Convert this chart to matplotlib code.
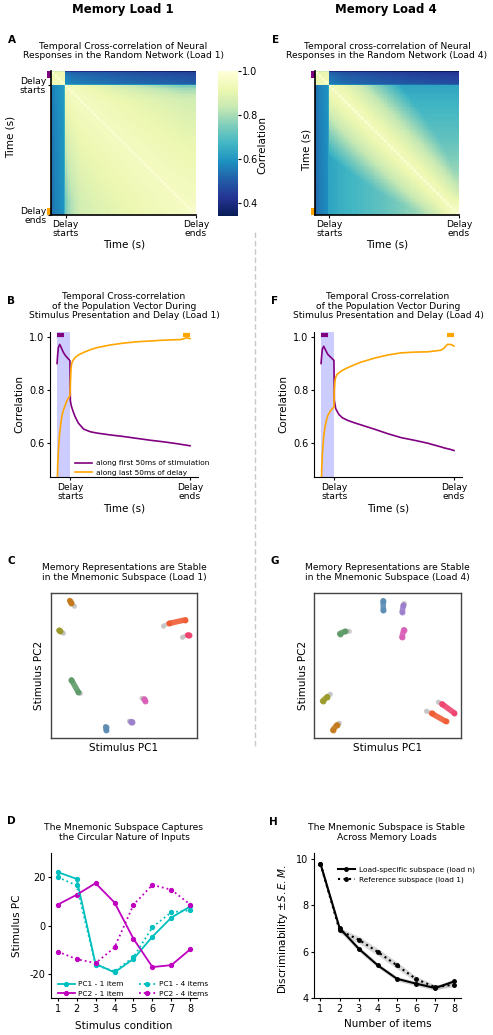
import numpy as np
import matplotlib
matplotlib.use("Agg")
import matplotlib.pyplot as plt
from matplotlib.lines import Line2D
from matplotlib.patches import Rectangle

plt.rcParams['font.family'] = ['DejaVu Sans']
plt.rcParams['axes.unicode_minus'] = False

# ---------------- data ----------------
STIM_END = 0.1
NBIN = 100

# Heatmap, load 1 (read values)
hm1_stim_level = 0.93
hm1_top_t = [0.1, 0.15, 0.5, 1.0]
hm1_top_v = [0.56, 0.53, 0.50, 0.47]
hm1_left_t = [0.1, 0.3, 1.0]
hm1_left_v = [0.58, 0.57, 0.56]
hm1_off_s = [0.0, 0.012, 0.03, 0.085, 0.1]
hm1_off_v = [-0.18, -0.02, 0.0, 0.03, 0.12]
hm1_far_s = [0.1, 0.13, 0.2, 0.3, 0.5, 0.7, 0.9, 1.0]
hm1_far_v = [0.74, 0.80, 0.86, 0.88, 0.91, 0.93, 0.95, 1.0]
hm1_wid_s = [0.1, 0.3, 0.5, 0.7, 0.9, 1.0]
hm1_wid_v = [0.8, 0.65, 0.45, 0.3, 0.1, 0.01]

# Heatmap, load 4 (read values)
hm4_stim_level = 0.92
hm4_top_t = [0.1, 0.2, 0.5, 1.0]
hm4_top_v = [0.53, 0.50, 0.47, 0.44]
hm4_left_t = [0.1, 1.0]
hm4_left_v = [0.56, 0.55]
hm4_off_s = [0.0, 0.012, 0.03, 0.085, 0.1]
hm4_off_v = [-0.18, -0.02, 0.0, 0.03, 0.10]
hm4_far_s = [0.1, 0.2, 0.3, 0.5, 0.7, 0.85, 1.0]
hm4_far_v = [0.63, 0.66, 0.68, 0.72, 0.78, 0.86, 1.0]
hm4_wid_s = [0.1, 0.3, 0.5, 0.7, 0.9, 1.0]
hm4_wid_v = [0.5, 0.45, 0.38, 0.27, 0.1, 0.01]

# Population-vector cross-correlation curves
tc_time = [0, 0.005, 0.01, 0.02, 0.03, 0.04, 0.05, 0.06, 0.07, 0.08, 0.09, 0.097,
           0.1, 0.105, 0.11, 0.12, 0.135, 0.16, 0.2, 0.25, 0.3, 0.4, 0.5, 0.6,
           0.7, 0.8, 0.9, 0.925, 0.95, 0.975, 1.0]
b_first = [0.90, 0.935, 0.96, 0.972, 0.962, 0.95, 0.94, 0.932, 0.926, 0.92, 0.915, 0.91,
           0.76, 0.745, 0.735, 0.72, 0.70, 0.675, 0.652, 0.642, 0.637, 0.63, 0.624, 0.617,
           0.61, 0.604, 0.597, 0.595, 0.593, 0.591, 0.589]
b_last = [0.40, 0.52, 0.57, 0.64, 0.68, 0.71, 0.727, 0.74, 0.755, 0.765, 0.772, 0.778,
          0.82, 0.88, 0.90, 0.912, 0.922, 0.932, 0.942, 0.952, 0.96, 0.97, 0.977, 0.982,
          0.985, 0.988, 0.99, 0.99, 0.993, 0.997, 0.994]
f_first = [0.90, 0.93, 0.955, 0.965, 0.955, 0.945, 0.935, 0.93, 0.925, 0.92, 0.915, 0.912,
           0.76, 0.745, 0.73, 0.72, 0.707, 0.695, 0.685, 0.676, 0.668, 0.652, 0.635, 0.62,
           0.61, 0.599, 0.585, 0.581, 0.578, 0.575, 0.571]
f_last = [0.40, 0.50, 0.56, 0.625, 0.66, 0.685, 0.702, 0.712, 0.72, 0.727, 0.732, 0.735,
          0.80, 0.835, 0.848, 0.858, 0.865, 0.874, 0.884, 0.895, 0.905, 0.92, 0.932, 0.94,
          0.943, 0.944, 0.95, 0.958, 0.972, 0.972, 0.966]

# Mnemonic-subspace trajectories (axis fractions): tail (gray) -> start -> end (coloured)
traj_colors = ['#c47a1c', '#9b9a2c', '#5d9b68', '#5b8db5', '#9d80cc', '#d95fb7', '#f05c34', '#ee4470']
c_tail_x = [0.160, 0.085, 0.200, 0.372, 0.535, 0.620, 0.770, 0.900]
c_tail_y = [0.912, 0.725, 0.310, 0.082, 0.118, 0.275, 0.775, 0.695]
c_beg_x = [0.140, 0.065, 0.185, 0.375, 0.548, 0.640, 0.810, 0.935]
c_beg_y = [0.930, 0.735, 0.320, 0.075, 0.113, 0.268, 0.790, 0.710]
c_end_x = [0.128, 0.055, 0.140, 0.378, 0.555, 0.645, 0.920, 0.945]
c_end_y = [0.948, 0.742, 0.400, 0.055, 0.112, 0.258, 0.815, 0.708]

g_tail_x = [0.470, 0.612, 0.235, 0.612, 0.110, 0.170, 0.765, 0.845]
g_tail_y = [0.950, 0.930, 0.738, 0.750, 0.305, 0.105, 0.188, 0.250]
g_beg_x = [0.470, 0.608, 0.210, 0.610, 0.090, 0.155, 0.800, 0.870]
g_beg_y = [0.945, 0.915, 0.735, 0.745, 0.285, 0.090, 0.170, 0.235]
g_end_x = [0.472, 0.600, 0.175, 0.598, 0.058, 0.128, 0.895, 0.955]
g_end_y = [0.880, 0.872, 0.720, 0.695, 0.255, 0.055, 0.115, 0.172]
g_colors = ['#5b8db5', '#9d80cc', '#5d9b68', '#d95fb7', '#9b9a2c', '#c47a1c', '#f05c34', '#ee4470']

# Panel D
conditions = [1, 2, 3, 4, 5, 6, 7, 8]
pc1_1item = [22.1, 19.3, -15.9, -19.4, -13.8, -4.6, 3.3, 7.9]
pc2_1item = [8.6, 12.7, 17.5, 9.5, -5.5, -17.2, -16.4, -9.8]
pc1_4items = [20.0, 16.6, -16.3, -19.0, -13.1, -0.7, 5.5, 6.3]
pc2_4items = [-10.8, -13.9, -15.6, -9.1, 8.6, 16.8, 14.8, 8.6]

# Panel H
n_items = [1, 2, 3, 4, 5, 6, 7, 8]
disc_specific = [9.8, 7.02, 6.13, 5.41, 4.83, 4.62, 4.43, 4.72]
sem_specific = [0.12, 0.12, 0.12, 0.10, 0.10, 0.10, 0.10, 0.10]
disc_reference = [9.8, 6.92, 6.52, 5.99, 5.41, 4.82, 4.47, 4.58]
sem_reference = [0.12, 0.12, 0.15, 0.15, 0.15, 0.12, 0.10, 0.10]

# ---------------- figure ----------------
W, H = 493, 1035
fig = plt.figure(figsize=(W / 100, H / 100), dpi=100)


def rect(x0, y0, x1, y1):
    return [x0 / W, 1 - y1 / H, (x1 - x0) / W, (y1 - y0) / H]


def ftxt(x, y, s, **kw):
    kw.setdefault('ha', 'center')
    kw.setdefault('va', 'center')
    return fig.text(x / W, 1 - y / H, s, **kw)


TICK = 7
LAB = 7.5
TITLE = 6.6
LEG = 5.3
HTICK = 6.6


def corr_matrix(stim_level, top_t, top_v, left_t, left_v, off_s, off_v,
                far_s, far_v, wid_s, wid_v, d0, p):
    tt = (np.arange(NBIN) + 0.5) / NBIN
    row = tt[:, None] * np.ones((1, NBIN))
    col = np.ones((NBIN, 1)) * tt[None, :]
    a = np.minimum(row, col)
    b = np.maximum(row, col)
    F = np.interp(a, far_s, far_v)
    Wd = np.interp(a, wid_s, wid_v)
    r = np.clip((b - a) / Wd, 0, 1) ** p
    C = 1 - d0 - (1 - d0 - F) * r
    top = np.interp(col, top_t, top_v) + np.interp(row, off_s, off_v)
    left = np.interp(row, left_t, left_v) + np.interp(col, off_s, off_v)
    C = np.where((row < STIM_END) & (col >= STIM_END), top, C)
    C = np.where((col < STIM_END) & (row >= STIM_END), left, C)
    ss = stim_level + 0.5 * np.interp(a, off_s, off_v)
    C = np.where(b < STIM_END, ss, C)
    np.fill_diagonal(C, 1.0)
    return C


def heatmap(ax, C, ylabels=True):
    im = ax.imshow(C, cmap='YlGnBu_r', vmin=0.34, vmax=1.0, aspect='auto',
                   interpolation='nearest', extent=(0, 1, 1, 0))
    ax.set_xlim(0, 1)
    ax.set_ylim(1, 0)
    for s in ['top', 'right']:
        ax.spines[s].set_visible(False)
    for s in ['left', 'bottom']:
        ax.spines[s].set_color('black')
        ax.spines[s].set_linewidth(1.2)
    ax.set_xticks([0.1, 1.0])
    ax.set_xticklabels(['Delay\nstarts', 'Delay\nends'], fontsize=HTICK, linespacing=1.0)
    if ylabels:
        ax.set_yticks([0.1, 1.0])
        ax.set_yticklabels(['Delay\nstarts', 'Delay\nends'], fontsize=HTICK, linespacing=1.0)
    else:
        ax.set_yticks([])
    ax.tick_params(length=2, pad=1.5)
    yt = ax.get_yaxis_transform()
    ax.add_patch(Rectangle((-0.03, 0.0), 0.03, 0.05, transform=yt, clip_on=False,
                           color='purple', lw=0))
    ax.add_patch(Rectangle((-0.03, 0.95), 0.03, 0.05, transform=yt, clip_on=False,
                           color='orange', lw=0))
    return im


# Headers
ftxt(122.5, 10, 'Memory Load 1', fontsize=8.5, fontweight='bold')
ftxt(386, 10, 'Memory Load 4', fontsize=8.5, fontweight='bold')

# Panel letters
for lx, ly, s in [(11.5, 40, 'A'), (275.5, 40, 'E'), (11.5, 301, 'B'), (275, 301, 'F'),
                  (11, 561, 'C'), (275, 561, 'G'), (11, 821.5, 'D'), (273.5, 822, 'H')]:
    ftxt(lx, ly, s, fontsize=7.5, fontweight='bold')

# Titles
ftxt(123.5, 51, 'Temporal Cross-correlation of Neural\nResponses in the Random Network (Load 1)',
     fontsize=TITLE, linespacing=1.05)
ftxt(387, 51, 'Temporal cross-correlation of Neural\nResponses in the Random Network (Load 4)',
     fontsize=TITLE, linespacing=1.05)
ftxt(124, 306, 'Temporal Cross-correlation\nof the Population Vector During\nStimulus Presentation and Delay (Load 1)',
     fontsize=TITLE, linespacing=1.05)
ftxt(388, 306, 'Temporal Cross-correlation\nof the Population Vector During\nStimulus Presentation and Delay (Load 4)',
     fontsize=TITLE, linespacing=1.05)
ftxt(124, 572.5, 'Memory Representations are Stable\nin the Mnemonic Subspace (Load 1)',
     fontsize=TITLE, linespacing=1.05)
ftxt(387, 572.5, 'Memory Representations are Stable\nin the Mnemonic Subspace (Load 4)',
     fontsize=TITLE, linespacing=1.05)
ftxt(124, 832.5, 'The Mnemonic Subspace Captures\nthe Circular Nature of Inputs',
     fontsize=TITLE, linespacing=1.05)
ftxt(387, 832.5, 'The Mnemonic Subspace is Stable\nAcross Memory Loads',
     fontsize=TITLE, linespacing=1.05)

# Separator
fig.add_artist(Line2D([255 / W, 255 / W], [1 - 232 / H, 1 - 748 / H], color='#c8c8c8',
                      lw=1.0, ls=(0, (4, 2))))

# ---- A ----
axA = fig.add_axes(rect(51, 71, 196, 215))
C1 = corr_matrix(hm1_stim_level, hm1_top_t, hm1_top_v, hm1_left_t, hm1_left_v,
                 hm1_off_s, hm1_off_v, hm1_far_s, hm1_far_v, hm1_wid_s, hm1_wid_v, 0.05, 1.0)
imA = heatmap(axA, C1)
axA.set_xlabel('Time (s)', fontsize=LAB, va='center')
axA.xaxis.set_label_coords(0.503, -0.208)
axA.set_ylabel('Time (s)', fontsize=LAB, va='center', ha='center')
axA.yaxis.set_label_coords(-0.276, 0.54)

cax = fig.add_axes(rect(218, 71, 237.5, 216))
cb = fig.colorbar(imA, cax=cax, ticks=[0.4, 0.6, 0.8, 1.0])
cb.outline.set_visible(False)
cax.tick_params(labelsize=TICK, length=2, pad=1.5)
cb.set_label('Correlation', fontsize=LAB, va='center', ha='center')
cax.yaxis.set_label_coords(1.0 + (262 - 237.5) / 19.5, 0.49)

# ---- E ----
axE = fig.add_axes(rect(315, 71, 459, 215))
C4 = corr_matrix(hm4_stim_level, hm4_top_t, hm4_top_v, hm4_left_t, hm4_left_v,
                 hm4_off_s, hm4_off_v, hm4_far_s, hm4_far_v, hm4_wid_s, hm4_wid_v, 0.06, 1.3)
heatmap(axE, C4, ylabels=False)
axE.set_xlabel('Time (s)', fontsize=LAB, va='center')
axE.xaxis.set_label_coords(0.5, -0.208)
axE.set_ylabel('Time (s)', fontsize=LAB, va='center', ha='center')
axE.yaxis.set_label_coords(-0.056, 0.455)


# ---- B / F ----
def popvec(ax, first, last, xlab_x):
    ax.axvspan(0, STIM_END, color='blue', alpha=0.2, lw=0)
    ax.plot(tc_time, first, color='purple', lw=1.2, label='along first 50ms of stimulation')
    ax.plot(tc_time, last, color='orange', lw=1.2, label='along last 50ms of delay')
    ax.plot([0, 0.05], [1.0085, 1.0085], color='purple', lw=3, solid_capstyle='butt')
    ax.plot([0.95, 1.0], [1.0085, 1.0085], color='orange', lw=3, solid_capstyle='butt')
    ax.set_xlim(-0.053, 1.06)
    ax.set_ylim(0.471, 1.019)
    for s in ['top', 'right']:
        ax.spines[s].set_visible(False)
    ax.set_xticks([0.1, 1.0])
    ax.set_xticklabels(['Delay\nstarts', 'Delay\nends'], fontsize=HTICK, linespacing=1.0)
    ax.set_yticks([0.6, 0.8, 1.0])
    ax.set_yticklabels(['0.6', '0.8', '1.0'], fontsize=TICK)
    ax.tick_params(length=2.5, pad=1.5)
    ax.set_xlabel('Time (s)', fontsize=LAB, va='center')
    ax.xaxis.set_label_coords(xlab_x, -0.22)
    ax.set_ylabel('Correlation', fontsize=LAB, va='center', ha='center')
    ax.yaxis.set_label_coords(-0.21, 0.503)


axB = fig.add_axes(rect(50, 332, 198, 477))
popvec(axB, b_first, b_last, 0.5)
axB.legend(loc='lower left', bbox_to_anchor=(0.15, -0.01), frameon=False, fontsize=LEG,
           handlelength=2.3, handletextpad=0.6, borderaxespad=0, labelspacing=0.4)
axF = fig.add_axes(rect(314, 332, 462, 477))
popvec(axF, f_first, f_last, 0.5)


# ---- C / G ----
def traj(ax, tx, ty, bx, by, ex, ey, cols, ylab_x):
    for i in range(len(cols)):
        ax.plot([tx[i], bx[i]], [ty[i], by[i]], color='#c0c0c0', lw=3.2, alpha=0.7,
                solid_capstyle='round', marker='o', ms=3.5, mew=0)
        ax.plot([bx[i], ex[i]], [by[i], ey[i]], color=cols[i], lw=4.0, alpha=0.9,
                solid_capstyle='round', marker='o', ms=4.3, mew=0)
    ax.set_xlim(0, 1)
    ax.set_ylim(0, 1)
    ax.set_xticks([])
    ax.set_yticks([])
    for s in ax.spines.values():
        s.set_color('#444444')
        s.set_linewidth(1.0)
    ax.set_xlabel('Stimulus PC1', fontsize=LAB, va='center')
    ax.xaxis.set_label_coords(0.5, -0.069)
    ax.set_ylabel('Stimulus PC2', fontsize=LAB, va='center', ha='center')
    ax.yaxis.set_label_coords(ylab_x, 0.43)


axC = fig.add_axes(rect(51, 593, 197, 738))
traj(axC, c_tail_x, c_tail_y, c_beg_x, c_beg_y, c_end_x, c_end_y, traj_colors, -0.082)
axG = fig.add_axes(rect(314, 593, 461, 738))
traj(axG, g_tail_x, g_tail_y, g_beg_x, g_beg_y, g_end_x, g_end_y, g_colors, -0.075)

# ---- D ----
axD = fig.add_axes(rect(51, 853, 197, 998))
axD.plot(conditions, pc1_1item, color='c', lw=1.3, marker='o', ms=2.8, label='PC1 - 1 item')
axD.plot(conditions, pc2_1item, color='m', lw=1.3, marker='o', ms=2.8, label='PC2 - 1 item')
axD.plot(conditions, pc1_4items, color='c', lw=1.3, ls=':', marker='o', ms=2.8, label='PC1 - 4 items')
axD.plot(conditions, pc2_4items, color='m', lw=1.3, ls=':', marker='o', ms=2.8, label='PC2 - 4 items')
axD.set_xlim(0.65, 8.35)
axD.set_ylim(-30, 30)
axD.set_xticks(conditions)
axD.set_yticks([-20, 0, 20])
axD.tick_params(labelsize=TICK, length=2.5, pad=1.5)
for s in ['top', 'right']:
    axD.spines[s].set_visible(False)
axD.set_xlabel('Stimulus condition', fontsize=LAB, va='center')
axD.xaxis.set_label_coords(0.5, -0.19)
axD.set_ylabel('Stimulus PC', fontsize=LAB, va='center', ha='center')
axD.yaxis.set_label_coords(-0.233, 0.497)
axD.legend(loc='lower left', ncol=2, frameon=False, fontsize=LEG, handlelength=2.3,
           handletextpad=0.5, bbox_to_anchor=(0.027, -0.01), borderaxespad=0,
           columnspacing=2.0, labelspacing=0.4)

# ---- H ----
axH = fig.add_axes(rect(314, 853, 461, 998))
s_lo = np.array(disc_specific) - np.array(sem_specific)
s_hi = np.array(disc_specific) + np.array(sem_specific)
r_lo = np.array(disc_reference) - np.array(sem_reference)
r_hi = np.array(disc_reference) + np.array(sem_reference)
axH.fill_between(n_items, s_lo, s_hi, color='gray', alpha=0.3, lw=0)
axH.fill_between(n_items, r_lo, r_hi, color='gray', alpha=0.3, lw=0)
axH.plot(n_items, disc_specific, color='black', lw=1.5, marker='o', ms=2.5,
         label='Load-specific subspace (load n)')
axH.plot(n_items, disc_reference, color='black', lw=1.5, ls=':', marker='o', ms=2.5,
         label='Reference subspace (load 1)')
axH.set_xlim(0.66, 8.35)
axH.set_ylim(4.0, 10.27)
axH.set_xticks(n_items)
axH.set_yticks([4, 6, 8, 10])
axH.tick_params(labelsize=TICK, length=2.5, pad=1.5)
for s in ['top', 'right']:
    axH.spines[s].set_visible(False)
axH.set_xlabel('Number of items', fontsize=LAB, va='center')
axH.xaxis.set_label_coords(0.5, -0.18)
axH.set_ylabel(r'Discriminability $\pm S.E.M.$', fontsize=LAB, va='center', ha='center')
axH.yaxis.set_label_coords(-0.21, 0.476)
axH.legend(loc='upper left', frameon=False, fontsize=LEG, handlelength=2.3,
           handletextpad=0.6, bbox_to_anchor=(0.143, 0.93), borderaxespad=0, labelspacing=0.5)

fig.savefig('out.png', dpi=100)
